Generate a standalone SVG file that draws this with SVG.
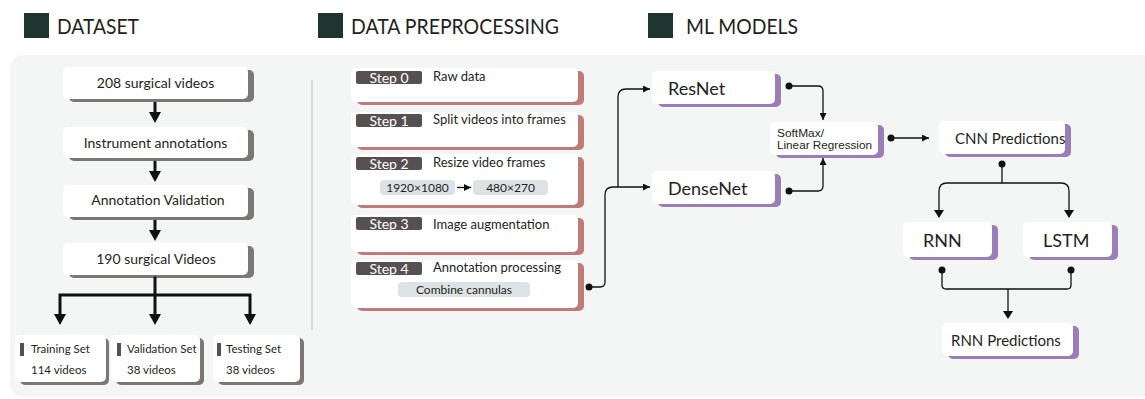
<svg xmlns="http://www.w3.org/2000/svg" width="1145" height="399" viewBox="0 0 1145 399">
<defs>
<style>
text{font-family:Lato,"Liberation Sans",sans-serif;fill:#231f20}
.hd{font-size:22px}
.sq{fill:#1f3630}
.w{fill:#fff}
.gs{fill:#7b7775}
.rs{fill:#c07b79}
.ps{fill:#9b7db7}
.t14{font-size:14px}
.t13{font-size:13px}
.t12{font-size:12px}
.t11{font-size:11.5px}
.big{font-size:18px}
.badge{fill:#565150}
.bt{fill:#fff;font-size:14px}
.chip{fill:#dde2e5}
.sm{font-size:10.6px;font-family:"Liberation Sans",sans-serif}
.thick{stroke:#111;stroke-width:3;fill:none}
.thin{stroke:#111;stroke-width:1.3;fill:none}
</style>
<marker id="ah" viewBox="0 0 10 10" refX="10" refY="5" markerWidth="7" markerHeight="7" markerUnits="userSpaceOnUse" orient="auto"><path d="M0,0L10,5L0,10z" fill="#111"/></marker>
</defs>
<rect x="0" y="0" width="1145" height="399" fill="#fff"/>
<g id="headers">
<rect class="sq" x="24" y="13" width="25" height="25"/><text class="hd" x="57" y="34" textLength="82" lengthAdjust="spacingAndGlyphs">DATASET</text>
<rect class="sq" x="318" y="13" width="25" height="25"/><text class="hd" x="351" y="34" textLength="208" lengthAdjust="spacingAndGlyphs">DATA PREPROCESSING</text>
<rect class="sq" x="648" y="13" width="25" height="25"/><text class="hd" x="686" y="34" textLength="112" lengthAdjust="spacingAndGlyphs">ML MODELS</text>
</g>
<rect x="10" y="55" width="1160" height="342" rx="14" fill="#f4f6f5"/>
<line x1="312" y1="80" x2="312" y2="330" stroke="#c8c8c8" stroke-width="1.2"/>
<g id="n208"><rect class="gs" x="69" y="70" width="185" height="32" rx="5"/><rect class="w" x="63" y="67" width="185" height="32" rx="5"/><text class="t14" x="155.5" y="88" text-anchor="middle">208 surgical videos</text></g>
<g id="ninstr"><rect class="gs" x="69" y="130" width="185" height="31" rx="5"/><rect class="w" x="63" y="127" width="185" height="31" rx="5"/><text class="t14" x="155.5" y="148" text-anchor="middle">Instrument annotations</text></g>
<g id="nvalid"><rect class="gs" x="69" y="188" width="185" height="32" rx="5"/><rect class="w" x="63" y="185" width="185" height="32" rx="5"/><text class="t14" x="158" y="205" text-anchor="middle">Annotation Validation</text></g>
<g id="n190"><rect class="gs" x="69" y="246" width="185" height="32" rx="5"/><rect class="w" x="63" y="243" width="185" height="32" rx="5"/><text class="t14" x="156" y="264" text-anchor="middle">190 surgical Videos</text></g>
<g id="ntrain"><rect class="gs" x="20" y="338" width="89" height="47" rx="5"/><rect class="w" x="15" y="335" width="91" height="47" rx="5"/><rect class="badge" x="20" y="343" width="4" height="13"/><text class="t11" x="31" y="353">Training Set</text><text class="t11" x="31" y="374">114 videos</text></g>
<g id="nvalset"><rect class="gs" x="116" y="338" width="88" height="47" rx="5"/><rect class="w" x="111" y="335" width="89" height="47" rx="5"/><rect class="badge" x="117" y="343" width="4" height="13"/><text class="t11" x="127" y="353">Validation Set</text><text class="t11" x="127" y="374">38 videos</text></g>
<g id="ntest"><rect class="gs" x="218" y="338" width="86" height="47" rx="5"/><rect class="w" x="213" y="335" width="87" height="47" rx="5"/><rect class="badge" x="217" y="343" width="4" height="13"/><text class="t11" x="226" y="353">Testing Set</text><text class="t11" x="226" y="374">38 videos</text></g>
<g id="step0"><rect class="rs" x="357" y="71" width="227" height="34" rx="5"/><rect class="w" x="351" y="68" width="227" height="34" rx="5"/><rect class="badge" x="356" y="71" width="66" height="13" rx="2"/><text class="bt" x="389" y="82.5" text-anchor="middle">Step 0</text><text class="t13" x="433" y="81">Raw data</text></g>
<g id="step1"><rect class="rs" x="357" y="115" width="227" height="35" rx="5"/><rect class="w" x="351" y="112" width="227" height="35" rx="5"/><rect class="badge" x="356" y="114" width="66" height="13" rx="2"/><text class="bt" x="389" y="125.5" text-anchor="middle">Step 1</text><text class="t13" x="433" y="124">Split videos into frames</text></g>
<g id="step2"><rect class="rs" x="357" y="157" width="227" height="51" rx="5"/><rect class="w" x="351" y="154" width="227" height="51" rx="5"/><rect class="badge" x="356" y="157" width="66" height="13" rx="2"/><text class="bt" x="389" y="168.5" text-anchor="middle">Step 2</text><text class="t13" x="433" y="167">Resize video frames</text>
<rect class="chip" x="380" y="180" width="75" height="15" rx="4"/><text class="t12" x="417.5" y="192" text-anchor="middle">1920×1080</text>
<rect class="chip" x="473" y="180" width="75" height="15" rx="4"/><text class="t12" x="510.5" y="192" text-anchor="middle">480×270</text>
<line class="thin" x1="457" y1="187.5" x2="471" y2="187.5" marker-end="url(#ah)"/></g>
<g id="step3"><rect class="rs" x="357" y="218" width="227" height="37" rx="5"/><rect class="w" x="351" y="215" width="227" height="37" rx="5"/><rect class="badge" x="356" y="217" width="66" height="13" rx="2"/><text class="bt" x="389" y="228.5" text-anchor="middle">Step 3</text><text class="t13" x="433" y="229">Image augmentation</text></g>
<g id="step4"><rect class="rs" x="357" y="263" width="227" height="48" rx="5"/><rect class="w" x="351" y="260" width="227" height="48" rx="5"/><rect class="badge" x="356" y="262" width="66" height="13" rx="2"/><text class="bt" x="389" y="273.5" text-anchor="middle">Step 4</text><text class="t13" x="433" y="272">Annotation processing</text>
<rect class="chip" x="398" y="282" width="132" height="15" rx="4"/><text class="t12" x="464" y="294" text-anchor="middle">Combine cannulas</text></g>
<g id="resnet"><rect class="ps" x="658" y="74" width="123" height="33" rx="5"/><rect class="w" x="652" y="71" width="123" height="33" rx="5"/><text class="big" x="668" y="95">ResNet</text></g>
<g id="densenet"><rect class="ps" x="658" y="174" width="123" height="33" rx="5"/><rect class="w" x="652" y="171" width="123" height="33" rx="5"/><text class="big" x="668" y="195">DenseNet</text></g>
<g id="softmax"><rect class="ps" x="776" y="125" width="108" height="33" rx="5"/><rect class="w" x="770" y="122" width="108" height="33" rx="5"/><text class="sm" x="777" y="136.5" textLength="47" lengthAdjust="spacingAndGlyphs">SoftMax/</text><text class="sm" x="777" y="148.5" textLength="95" lengthAdjust="spacingAndGlyphs">Linear Regression</text></g>
<g id="cnnpred"><rect class="ps" x="945" y="124" width="126" height="33" rx="5"/><rect class="w" x="939" y="121" width="126" height="33" rx="5"/><text style="font-size:15px" x="955" y="144">CNN Predictions</text></g>
<g id="rnn"><rect class="ps" x="909" y="225" width="89" height="35" rx="5"/><rect class="w" x="903" y="222" width="89" height="35" rx="5"/><text class="big" x="923" y="247">RNN</text></g>
<g id="lstm"><rect class="ps" x="1029" y="225" width="89" height="35" rx="5"/><rect class="w" x="1023" y="222" width="89" height="35" rx="5"/><text class="big" x="1043" y="247">LSTM</text></g>
<g id="rnnpred"><rect class="ps" x="948" y="326" width="131" height="33" rx="5"/><rect class="w" x="942" y="323" width="131" height="33" rx="5"/><text style="font-size:15px" x="951" y="346">RNN Predictions</text></g>
<g id="connectors">
<path d="M155,102V114" class="thick"/><path d="M149,112L161,112L155,123z" fill="#111"/>
<path d="M155,161V173" class="thick"/><path d="M149,171L161,171L155,182z" fill="#111"/>
<path d="M155,220V232" class="thick"/><path d="M149,230L161,230L155,241z" fill="#111"/>
<path d="M155,278V295M60,295H250M60,295V316M155,295V316M250,295V316" class="thick" stroke-linecap="square"/>
<path d="M54,314L66,314L60,325z" fill="#111"/><path d="M149,314L161,314L155,325z" fill="#111"/><path d="M244,314L256,314L250,325z" fill="#111"/>
<circle cx="589" cy="287" r="3.5" fill="#111"/>
<path d="M589,287H600Q605,287 605,282V195Q605,187 613,187H650" class="thin" marker-end="url(#ah)"/>
<path d="M618,187V97Q618,89 626,89H650" class="thin" marker-end="url(#ah)"/>
<circle cx="789" cy="86" r="3.5" fill="#111"/>
<path d="M789,86H818Q823,86 823,91V120" class="thin" marker-end="url(#ah)"/>
<circle cx="789" cy="191" r="3.5" fill="#111"/>
<path d="M789,191H818Q823,191 823,186V158" class="thin" marker-end="url(#ah)"/>
<circle cx="891" cy="138" r="3.5" fill="#111"/>
<path d="M891,138H929" class="thin" marker-end="url(#ah)"/>
<circle cx="1002" cy="164" r="3.5" fill="#111"/>
<path d="M1002,164V183M947,183H1061M947,183Q939,183 939,191V217M1061,183Q1069,183 1069,191V217" class="thin"/>
<path d="M934,210L944,210L939,218z" fill="#111"/><path d="M1064,210L1074,210L1069,218z" fill="#111"/>
<circle cx="942" cy="270" r="3.5" fill="#111"/><circle cx="1071" cy="270" r="3.5" fill="#111"/>
<path d="M942,270V285Q942,289 946,289H1067Q1071,289 1071,285V270M1008,289V312" class="thin"/>
<path d="M1003,311L1013,311L1008,319z" fill="#111"/>
</g>
</svg>
